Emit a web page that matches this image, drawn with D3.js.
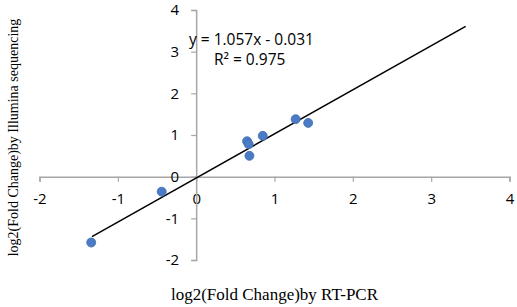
<!DOCTYPE html>
<html><head><meta charset="utf-8">
<script src="https://cdn.jsdelivr.net/npm/d3@7"></script>
<style>body{margin:0;background:#fff}</style>
</head><body>
<svg id="c" width="517" height="307"></svg>
<script>
const xValues = [-1.34, -0.44, 0.65, 0.67, 0.68, 0.85, 1.27, 1.43];
const yValues = [-1.58, -0.36, 0.85, 0.78, 0.50, 0.98, 1.38, 1.29];
const xTicks = [-2, -1, 0, 1, 2, 3, 4];
const yTicks = [-2, -1, 0, 1, 2, 3, 4];
const slope = 1.057, intercept = -0.031;
const trendRange = [-1.33, 3.44];
const eqLabel = "y = 1.057x - 0.031";
const r2Label = "R² = 0.975";
const xTitle = "log2(Fold Change)by RT-PCR";
const yTitle = "log2(Fold Change)by Illumina sequencing";

const svg = d3.select("#c");
const x = d3.scaleLinear().domain([-2, 4]).range([39.5, 509.5]);
const y = d3.scaleLinear().domain([-2, 4]).range([260, 10]);
const axisColor = "#a6a6a6";
const tickFont = "'Open Sans', sans-serif";

const gx = svg.append("g").attr("transform", `translate(0,${y(0)})`)
  .call(d3.axisBottom(x).tickValues(xTicks).tickSize(5).tickFormat(d3.format("d")));
gx.select(".domain").attr("stroke", axisColor).attr("stroke-width", 1.5);
gx.selectAll(".tick line").attr("stroke", axisColor).attr("stroke-width", 1.2);
gx.selectAll(".tick text").attr("font-family", tickFont).attr("font-size", 15)
  .attr("fill", "#000").attr("y", 22).attr("dy", "0.35em").text(d => d < 0 ? "-" + Math.abs(d) : d);

const gy = svg.append("g").attr("transform", `translate(${x(0)},0)`)
  .call(d3.axisLeft(y).tickValues(yTicks).tickSize(5).tickFormat(d3.format("d")));
gy.select(".domain").attr("stroke", axisColor).attr("stroke-width", 1.5);
gy.selectAll(".tick line").attr("stroke", axisColor).attr("stroke-width", 1.2);
gy.selectAll(".tick text").attr("font-family", tickFont).attr("font-size", 15)
  .attr("fill", "#000").attr("x", -17).text(d => d < 0 ? "-" + Math.abs(d) : d);

svg.append("line")
  .attr("x1", x(trendRange[0])).attr("y1", y(slope * trendRange[0] + intercept))
  .attr("x2", x(trendRange[1])).attr("y2", y(slope * trendRange[1] + intercept))
  .attr("stroke", "#000").attr("stroke-width", 1.5);

svg.append("g").selectAll("circle").data(xValues.map((v, i) => [v, yValues[i]]))
  .join("circle").attr("cx", d => x(d[0])).attr("cy", d => y(d[1])).attr("r", 4.5)
  .attr("fill", "#4a7bc4").attr("stroke", "#3e6db3").attr("stroke-width", 0.8);

svg.append("text").attr("x", 189).attr("y", 45).attr("font-family", tickFont)
  .attr("font-size", 15.5).text(eqLabel);
svg.append("text").attr("x", 214).attr("y", 65).attr("font-family", tickFont)
  .attr("font-size", 15.5).text(r2Label);

svg.append("text").attr("x", 274.5).attr("y", 300).attr("text-anchor", "middle")
  .attr("font-family", "'Liberation Serif', 'Times New Roman', serif").attr("font-size", 17)
  .text(xTitle);
svg.append("text").attr("transform", "translate(17.5,137.5) rotate(-90)").attr("text-anchor", "middle")
  .attr("font-family", "'Liberation Serif', 'Times New Roman', serif").attr("font-size", 14)
  .text(yTitle);
</script>
</body></html>
